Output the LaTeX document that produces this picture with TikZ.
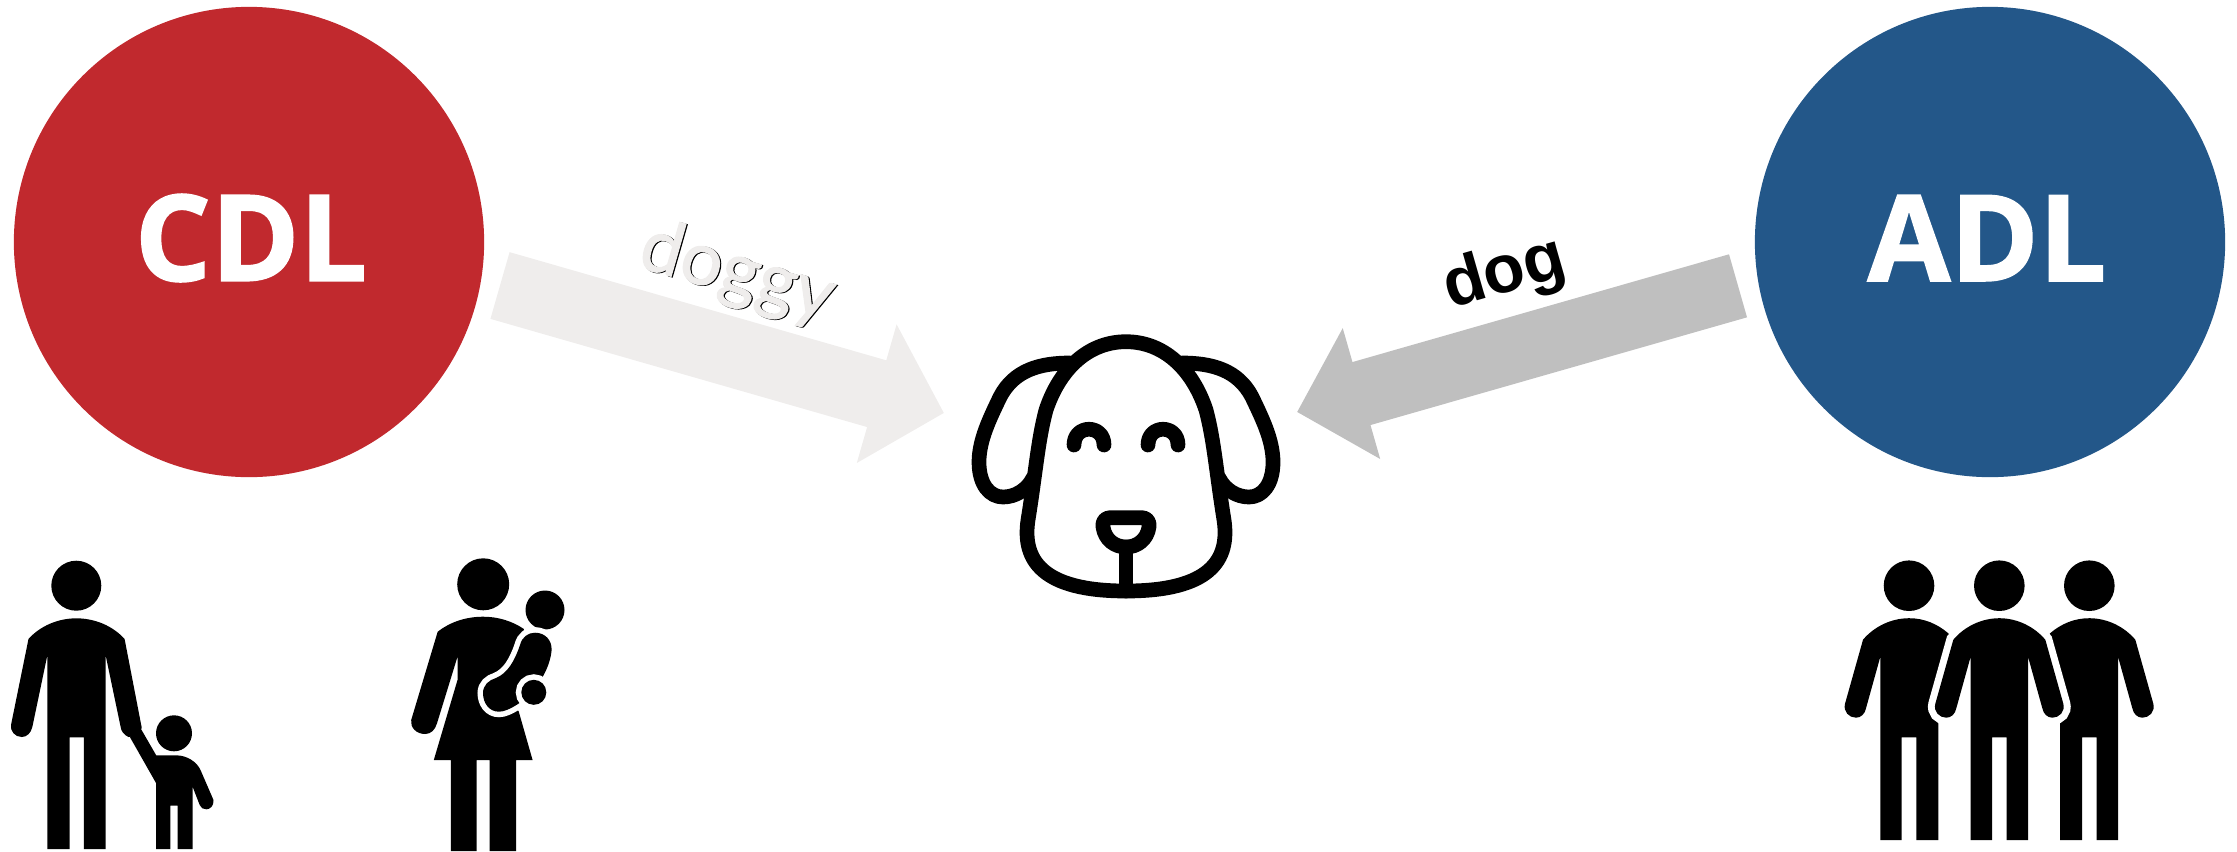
\documentclass[tikz,border=0pt]{standalone}
\usepackage{fontspec}
\usetikzlibrary{arrows.meta}
\newfontfamily\logofont{Open Sans}[BoldFeatures={FakeBold=1.5}]
\newfontfamily\dogfont{Liberation Sans}
\newfontfamily\doggyfont{Lato}[FakeBold=1.5]
\definecolor{cdlred}{HTML}{C1292E}
\definecolor{adlblue}{HTML}{235789}
\definecolor{paleinput}{HTML}{EFEDEC}
\definecolor{greyinput}{HTML}{BFBFBF}
\begin{document}
\begin{tikzpicture}[
    x=0.01cm, y=-0.01cm,
    groupcircle/.style={circle, minimum size=4.7cm, inner sep=0pt},
    grouptext/.style={text=white, inner sep=0pt, font=\logofont\bfseries\fontsize{34}{34}\selectfont},
    iconline/.style={draw=black, line width=1.47mm, line cap=round, line join=round},
    person/.style={fill=black},
    halo/.style={preaction={draw=white, line width=#1}},
    man/.pic={
        \fill[person] (0,0) circle (25.3);
        \fill[person, halo=1.4mm] (-46,54) .. controls (-35,41) and (-18,32.5) .. (0,32.5)
            .. controls (18,32.5) and (35,41) .. (46,54) -- (64,118)
            .. controls (66,126) and (60,132) .. (53,132) .. controls (48,132) and (44,128) .. (43,122.5)
            -- (28.7,71) -- (28.7,254.3) -- (7.3,254.3) -- (7.3,151.6) -- (-7.3,151.6) -- (-7.3,254.3)
            -- (-28.7,254.3) -- (-28.7,71) -- (-43,122.5)
            .. controls (-44,128) and (-48,132) .. (-53,132) .. controls (-60,132) and (-66,126) .. (-64,118) -- cycle;
    },
    sideman/.pic={
        \fill[person] (0,0) circle (25.3);
        \fill[person] (-46,54) .. controls (-35,41) and (-18,32.5) .. (0,32.5)
            .. controls (15,32.5) and (28,38) .. (39.3,47.6) -- (43,54.3) -- (41,114.3) -- (36,136.3) -- (29.3,136)
            -- (29.3,254.3) -- (7.3,254.3) -- (7.3,151.6) -- (-7.3,151.6) -- (-7.3,254.3)
            -- (-28.7,254.3) -- (-28.7,71) -- (-43,122.5)
            .. controls (-44,128) and (-48,132) .. (-53,132) .. controls (-60,132) and (-66,126) .. (-64,118) -- cycle;
    }
]
    \useasboundingbox (0,0) rectangle (2237,851);

    \node[groupcircle, fill=cdlred] at (249,242) (cdl) {};
    \node[groupcircle, fill=adlblue] at (1990,242) (adl) {};
    \node[grouptext] at (251,238) (cdltext) {CDL};
    \node[grouptext] at (1987,238) (adltext) {ADL};

    \coordinate (doggytail) at (500,285.5);
    \coordinate (doggytip) at (944,413);
    \coordinate (dogtail) at (1738,285.8);
    \coordinate (dogtip) at (1297,412);
    \draw[paleinput, line width=6.94mm, -{Triangle[length=7mm, width=14mm]}] (doggytail) -- (doggytip);
    \draw[greyinput, line width=6.55mm, -{Triangle[length=6.7mm, width=13.2mm]}] (dogtail) -- (dogtip);

    % label on the pale arrow has a thin dark copy behind it
    \node[rotate=-16, font=\doggyfont\fontsize{21}{21}\selectfont] at (738.2,274.6) (doggyshadow) {doggy};
    \node[rotate=-16, text=paleinput, font=\doggyfont\fontsize{21}{21}\selectfont] at (737,274) (doggy) {doggy};
    \node[rotate=16, font=\dogfont\bfseries\fontsize{19.3}{19.3}\selectfont] at (1505,275) (dog) {dog};

    % dog head
    \draw[iconline] (1126,341.7) .. controls (1163,341.7) and (1192,368) .. (1206,410)
        .. controls (1214,440) and (1216,470) .. (1224,520) .. controls (1230,560) and (1210,591) .. (1126,591)
        .. controls (1042,591) and (1022,560) .. (1028,520) .. controls (1036,470) and (1038,440) .. (1046,410)
        .. controls (1060,368) and (1089,341.7) .. (1126,341.7) -- cycle;
    \draw[iconline] (1070,363) .. controls (1040,363) and (1014,370) .. (1000,397)
        .. controls (990,418) and (979,440) .. (979,462) .. controls (979,485) and (990,497) .. (1003,497)
        .. controls (1015,497) and (1027,490) .. (1033,478);
    \draw[iconline] (1182,363) .. controls (1212,363) and (1238,370) .. (1252,397)
        .. controls (1262,418) and (1273,440) .. (1273,462) .. controls (1273,485) and (1262,497) .. (1249,497)
        .. controls (1237,497) and (1225,490) .. (1219,478);
    \draw[iconline] (1074,445) .. controls (1074,424) and (1104,424) .. (1104,445);
    \draw[iconline] (1148,445) .. controls (1148,424) and (1178,424) .. (1178,445);
    \draw[iconline] (1110,517.7) -- (1142,517.7) .. controls (1147,517.7) and (1150,522) .. (1149,527)
        .. controls (1147,540) and (1137,547) .. (1126,547) .. controls (1115,547) and (1105,540) .. (1103,527)
        .. controls (1102,522) and (1105,517.7) .. (1110,517.7) -- cycle;
    \draw[iconline] (1126,547) -- (1126,591);

    % father and child
    \fill[person] (76.3,585.7) circle (25);
    \fill[person] (28.5,639) .. controls (40,626) and (58,618.3) .. (76.3,618.3)
        .. controls (95,618.3) and (113,626) .. (124.6,639) -- (141.6,727) -- (141,735) -- (128.5,737)
        .. controls (124,735) and (121,731) .. (120.6,726.7) -- (105.6,655) -- (105.6,849) -- (83.8,849)
        -- (83.8,737.3) -- (69.6,737.3) -- (69.6,849) -- (47.4,849) -- (47.4,655) -- (32.4,726.7)
        .. controls (31,733) and (27,737) .. (21.7,737) .. controls (15,737) and (10,731) .. (11,725) -- cycle;
    \fill[person] (174,733.3) circle (18);
    \fill[person] (141.6,730) -- (156.2,755.3) -- (176,755.3) .. controls (187,755.3) and (197,762) .. (200.5,770)
        -- (213.5,800) .. controls (214,806) and (210,809.3) .. (206.4,809.3) .. controls (203,809.3) and (201,808) .. (199.7,805)
        -- (192.6,786.7) -- (192.6,849) -- (177.5,849) -- (177.5,805.7) -- (170.4,805.7) -- (170.4,849)
        -- (156.2,849) -- (156.2,783.3) -- (129.7,736.7) -- cycle;

    % mother and baby
    \fill[person] (483.2,584.3) circle (26);
    \fill[person] (437.7,631.7) .. controls (450,622) and (466,616.7) .. (483.2,616.7)
        .. controls (498,616.7) and (512,621) .. (523.9,629) -- (518,660) -- (505,690) -- (518.8,711.7)
        -- (532.6,760) -- (516,760) -- (516,851) -- (489.5,851) -- (489.5,760) -- (476.5,760) -- (476.5,851)
        -- (450.8,851) -- (450.8,760) -- (433.8,760) -- (457.5,680) -- (457.5,656.7) -- (437,723.3)
        .. controls (435,730) and (431,734) .. (425,734) .. controls (416,734) and (410,727) .. (411.2,720) -- cycle;
    \fill[person] (545,610) circle (19.5);
    \fill[person, halo=1.1mm] (520,645) .. controls (522,637) and (528,632.7) .. (535,632.7)
        .. controls (545,632.7) and (552,640) .. (551.6,650) .. controls (551,658) and (548,667) .. (543.7,675)
        -- (533.8,692) -- (518,704) .. controls (510,709) and (504,711.7) .. (499,711.7)
        .. controls (489,711.7) and (483,703) .. (483,693) .. controls (483,685) and (489,680) .. (496,678)
        .. controls (508,673) and (515,660) .. (520,645) -- cycle;
    \fill[person, halo=1.1mm] (533.8,692.3) circle (12.5);

    % three men
    \pic at (1909,585.7) {sideman};
    \pic[xscale=-1] at (2089.3,585.7) {sideman};
    \pic at (1999.3,585.7) {man};
\end{tikzpicture}
\end{document}
